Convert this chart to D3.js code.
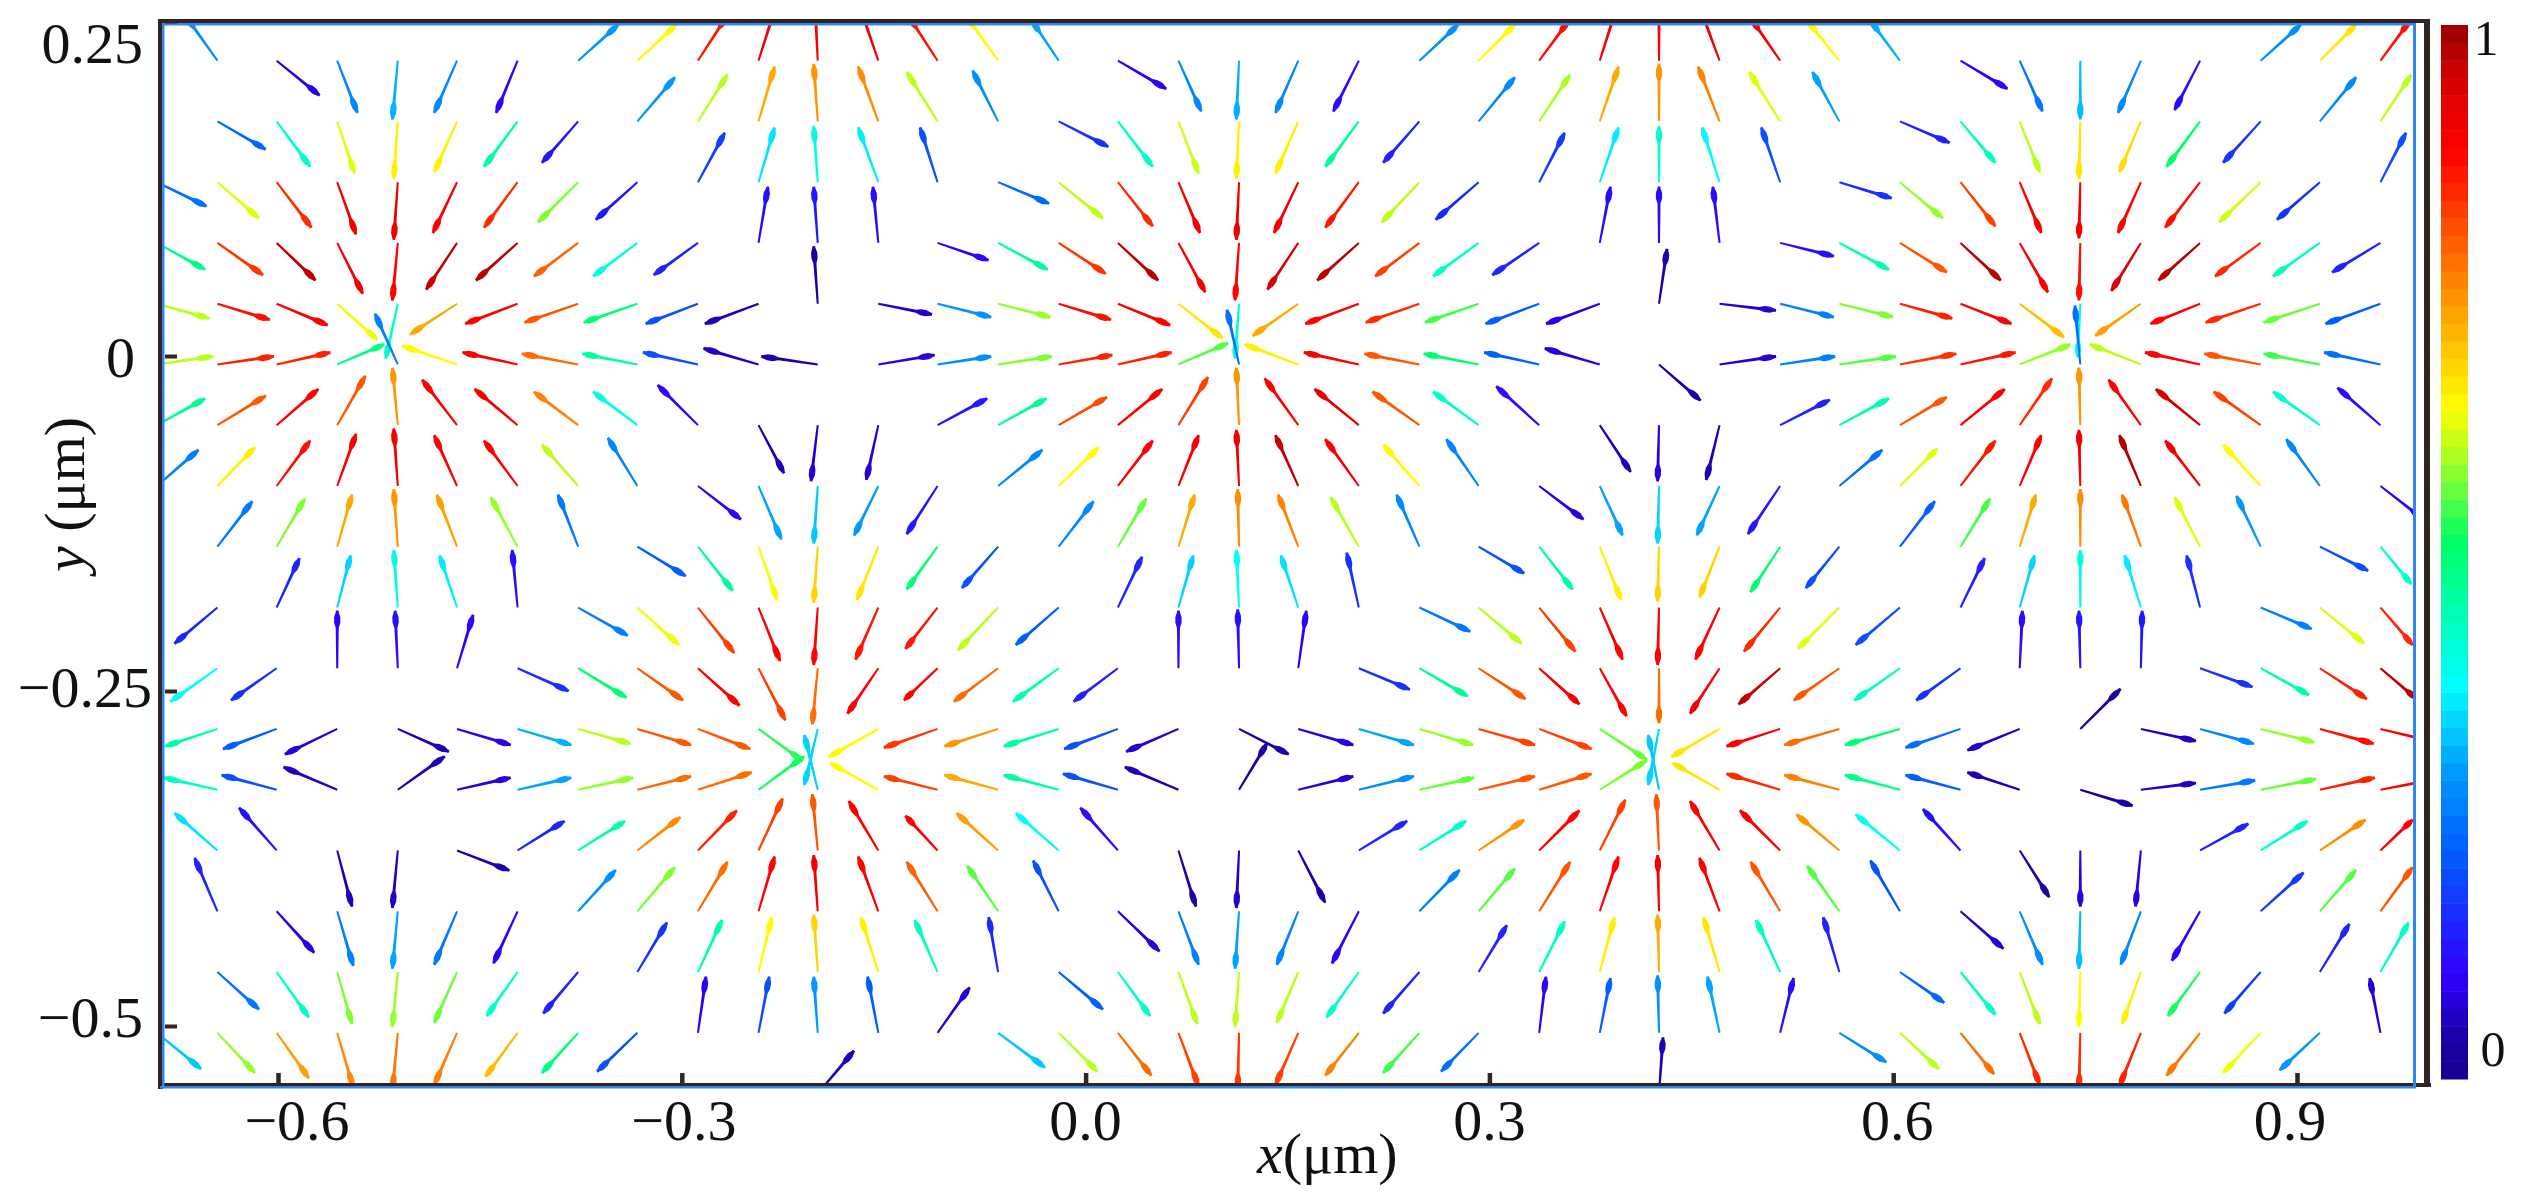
<!DOCTYPE html>
<html lang="en">
  <head>
    <meta charset="utf-8">
    <title>Vector field</title>
    <script type="text/javascript" src="https://cdnjs.cloudflare.com/ajax/libs/d3/7.8.5/d3.min.js"></script>
    <style>
    html, body { margin: 0; padding: 0; background: #fff; overflow: hidden; }
    text { font-family: "Liberation Serif", serif; font-size: 58px; fill: #111; }
    </style>
  </head>
  <body>
    <script type="text/javascript">
      // tail grid of the arrows, in um
      var colX = [-0.690,-0.645,-0.601,-0.556,-0.511,-0.467,-0.422,-0.377,-0.333,-0.288,
                  -0.243,-0.199,-0.154,-0.110,-0.065,-0.020,0.024,0.069,0.114,0.158,
                  0.203,0.248,0.292,0.337,0.382,0.426,0.471,0.516,0.560,0.605,
                  0.650,0.694,0.739,0.784,0.828,0.873,0.917,0.962];
      var rowY = [0.2204,0.1751,0.1297,0.0844,0.0390,-0.0063,-0.0516,-0.0970,-0.1423,
                  -0.1877,-0.2330,-0.2783,-0.3237,-0.3690,-0.4144,-0.4597,-0.5051,-0.5504];

      // one list per row: [column, dx (nm), dy (nm), normalised magnitude]
      var row00 = [[1,-24,34,.28],[2,32,-26,.08],[3,15,-39,.27],[4,-4,-44,.31],[5,-17,-39,.27],[6,-16,-39,.10],[7,30,27,.29],[8,29,27,.64],[9,22,34,.86],[10,12,38,.9],[11,-2,42,.9],[12,-13,38,.9],[13,-22,34,.86],[14,-24,34,.64],[15,-20,30,.3],[16,36,-21,.09],[17,17,-38,.27],[18,-2,-44,.31],[19,-17,-39,.27],[20,-19,-38,.11],[21,29,27,.28],[22,27,27,.64],[23,22,30,.87],[24,12,38,.9],[25,0,42,.88],[26,-14,38,.9],[27,-22,32,.89],[28,-24,30,.64],[29,-22,30,.31],[30,35,-21,.1],[31,17,-38,.25],[32,0,-44,.32],[33,-17,-39,.27],[34,-19,-37,.12],[35,30,27,.28],[36,27,27,.66],[37,22,30,.87]];
      var row01 = [[1,36,-21,.23],[2,25,-34,.42],[3,13,-39,.62],[4,-3,-43,.65],[5,-17,-38,.65],[6,-25,-34,.45],[7,-27,-31,.13],[8,28,33,.29],[9,22,35,.6],[10,12,41,.72],[11,-3,43,.74],[12,-15,41,.75],[13,-23,37,.6],[14,-19,38,.28],[15,37,-19,.16],[16,26,-34,.42],[17,15,-39,.61],[18,-2,-43,.65],[19,-17,-39,.65],[20,-25,-34,.47],[21,-27,-31,.14],[22,27,33,.27],[23,23,35,.59],[24,14,41,.72],[25,0,43,.74],[26,-16,41,.76],[27,-23,37,.62],[28,-20,37,.3],[29,37,-16,.14],[30,26,-31,.43],[31,15,-38,.6],[32,-1,-43,.66],[33,-16,-38,.67],[34,-25,-34,.5],[35,-28,-31,.17],[36,27,33,.27],[37,23,35,.6]];
      var row02 = [[0,37,-18,.24],[1,31,-27,.62],[2,26,-34,.84],[3,14,-39,.9],[4,-3,-43,.91],[5,-18,-38,.89],[6,-25,-34,.84],[7,-30,-30,.57],[8,-31,-28,.13],[9,20,37,.18],[10,12,41,.35],[11,-3,42,.4],[12,-15,41,.36],[13,-13,41,.2],[14,38,-16,.23],[15,33,-27,.6],[16,26,-33,.84],[17,16,-38,.9],[18,-2,-43,.91],[19,-18,-38,.9],[20,-25,-34,.86],[21,-28,-30,.6],[22,-32,-28,.15],[23,19,37,.17],[24,14,41,.36],[25,0,42,.42],[26,-13,41,.37],[27,-14,41,.2],[28,39,-12,.16],[29,32,-27,.58],[30,26,-33,.82],[31,16,-38,.89],[32,-1,-42,.9],[33,-17,-38,.88],[34,-26,-34,.87],[35,-31,-30,.61],[36,-32,-28,.16],[37,19,37,.2]];
      var row03 = [[0,36,-20,.48],[1,34,-24,.83],[2,29,-28,.97],[3,19,-38,.89],[4,-4,-43,.88],[5,-23,-35,.96],[6,-31,-28,.97],[7,-33,-25,.79],[8,-33,-25,.4],[9,-33,-24,.14],[10,7,42,.12],[11,-3,42,.13],[12,-4,42,.12],[13,38,-13,.1],[14,37,-20,.46],[15,35,-23,.83],[16,30,-28,.97],[17,20,-37,.89],[18,-3,-43,.88],[19,-23,-35,.94],[20,-31,-28,.97],[21,-33,-25,.82],[22,-34,-25,.42],[23,-35,-24,.14],[24,8,42,.12],[25,0,42,.12],[26,-5,42,.12],[27,40,-10,.12],[28,37,-20,.44],[29,35,-22,.8],[30,30,-28,.97],[31,21,-37,.89],[32,-1,-43,.87],[33,-22,-36,.94],[34,-31,-28,.97],[35,-34,-25,.84],[36,-35,-25,.43],[37,-36,-22,.14]];
      var row04 = [[0,39,-11,.6],[1,39,-12,.87],[2,38,-16,.88],[3,30,-27,.63],[4,-9,-41,.42],[5,-35,-23,.72],[6,-39,-15,.88],[7,-40,-14,.8],[8,-40,-14,.5],[9,-39,-15,.2],[10,-40,-15,.05],[11,-3,43,.03],[12,40,-8,.06],[13,40,-10,.28],[14,39,-10,.58],[15,39,-12,.87],[16,39,-16,.88],[17,33,-26,.66],[18,-3,-41,.42],[19,-34,-24,.72],[20,-40,-15,.88],[21,-40,-14,.84],[22,-40,-14,.54],[23,-40,-15,.22],[24,-40,-15,.08],[25,6,41,.04],[26,42,-5,.07],[27,40,-10,.26],[28,40,-10,.57],[29,39,-11,.85],[30,38,-15,.88],[31,33,-25,.7],[32,-2,-40,.4],[33,-34,-24,.73],[34,-37,-15,.88],[35,-41,-14,.84],[36,-42,-14,.56],[37,-41,-15,.22]];
      var row05 = [[0,42,6,.6],[1,42,6,.85],[2,40,9,.85],[3,35,15,.48],[4,-17,38,.26],[5,-41,14,.64],[6,-41,9,.88],[7,-42,8,.78],[8,-41,8,.46],[9,-41,9,.2],[10,-41,12,.06],[11,-42,6,.04],[12,42,7,.08],[13,40,6,.28],[14,40,6,.57],[15,40,7,.85],[16,40,9,.85],[17,37,16,.55],[18,-9,41,.24],[19,-40,15,.65],[20,-41,9,.88],[21,-41,8,.8],[22,-41,8,.5],[23,-41,9,.22],[24,-41,12,.08],[25,31,-27,.03],[26,42,6,.07],[27,41,6,.26],[28,42,6,.55],[29,42,8,.83],[30,41,9,.86],[31,38,15,.58],[32,-4,44,.24],[33,-38,15,.6],[34,-41,9,.88],[35,-42,8,.8],[36,-42,8,.54],[37,-42,9,.24]];
      var row06 = [[0,36,20,.47],[1,36,22,.8],[2,31,27,.88],[3,21,37,.8],[4,-4,43,.74],[5,-26,34,.88],[6,-32,27,.89],[7,-33,25,.76],[8,-33,25,.4],[9,-30,30,.1],[10,19,-36,.05],[11,-5,-42,.07],[12,-9,-41,.07],[13,37,20,.13],[14,36,20,.47],[15,36,21,.81],[16,33,27,.89],[17,22,36,.82],[18,-2,43,.74],[19,-25,35,.88],[20,-33,27,.92],[21,-35,25,.8],[22,-34,25,.42],[23,-32,29,.11],[24,23,-35,.05],[25,-1,-42,.08],[26,-10,-41,.05],[27,37,19,.14],[28,37,20,.44],[29,35,21,.8],[30,33,27,.88],[31,24,35,.84],[32,-1,43,.74],[33,-24,34,.88],[34,-33,27,.95],[35,-35,25,.82],[36,-35,25,.42],[37,-32,28,.12]];
      var row07 = [[0,31,27,.26],[1,28,29,.65],[2,25,34,.87],[3,14,39,.89],[4,-3,43,.9],[5,-17,38,.88],[6,-25,34,.88],[7,-27,31,.6],[8,-22,36,.27],[9,32,-25,.1],[10,17,-40,.3],[11,-3,-43,.33],[12,-18,-37,.29],[13,-23,-36,.13],[14,33,27,.27],[15,30,29,.64],[16,26,34,.88],[17,15,38,.89],[18,-2,42,.9],[19,-17,38,.96],[20,-25,35,.88],[21,-27,31,.64],[22,-24,35,.27],[23,33,-25,.08],[24,17,-37,.3],[25,-1,-43,.34],[26,-17,-37,.3],[27,-24,-36,.13],[28,32,27,.24],[29,28,28,.62],[30,26,34,.86],[31,16,38,.88],[32,-1,42,.9],[33,-16,38,.98],[34,-26,34,.9],[35,-28,31,.64],[36,-25,35,.27],[37,32,-25,.1]];
      var row08 = [[1,26,34,.25],[2,21,36,.57],[3,11,39,.72],[4,-3,43,.74],[5,-15,39,.73],[6,-20,37,.58],[7,-15,39,.25],[8,36,-22,.22],[9,26,-33,.46],[10,14,-40,.64],[11,-3,-42,.68],[12,-16,-40,.66],[13,-23,-32,.5],[14,-27,-31,.2],[15,26,34,.27],[16,21,36,.56],[17,12,39,.72],[18,-1,43,.75],[19,-15,39,.76],[20,-21,37,.6],[21,-17,39,.27],[22,34,-20,.2],[23,25,-32,.46],[24,16,-40,.65],[25,-1,-41,.68],[26,-15,-38,.68],[27,-22,-34,.5],[28,-25,-31,.2],[29,26,34,.22],[30,22,36,.54],[31,12,39,.72],[32,0,43,.75],[33,-14,39,.77],[34,-19,37,.62],[35,-18,38,.29],[36,36,-18,.2],[37,23,-28,.42]];
      var row09 = [[1,-32,-27,.15],[2,17,37,.15],[3,10,39,.34],[4,-3,43,.4],[5,-13,39,.36],[6,-4,43,.12],[7,37,-21,.26],[8,31,-28,.63],[9,27,-34,.82],[10,16,-40,.88],[11,-3,-43,.88],[12,-17,-39,.86],[13,-24,-31,.86],[14,-30,-32,.6],[15,-32,-28,.22],[16,18,38,.15],[17,11,39,.34],[18,-2,43,.38],[19,-13,39,.35],[20,-9,41,.16],[21,38,-18,.25],[22,32,-27,.6],[23,27,-33,.82],[24,17,-39,.88],[25,-1,-43,.88],[26,-18,-39,.88],[27,-27,-33,.84],[28,-31,-31,.62],[29,-33,-28,.2],[30,18,37,.14],[31,11,39,.34],[32,0,43,.4],[33,-12,39,.36],[34,-10,39,.16],[35,38,-16,.26],[36,33,-27,.62],[37,24,-28,.84]];
      var row10 = [[1,-35,-25,.38],[2,-34,-24,.16],[3,0,43,.1],[4,-2,43,.12],[5,12,40,.1],[6,38,-17,.16],[7,36,-22,.5],[8,34,-24,.8],[9,31,-28,.88],[10,20,-39,.82],[11,-4,-42,.78],[12,-23,-34,.88],[13,-25,-24,.88],[14,-33,-25,.78],[15,-34,-25,.44],[16,-33,-25,.14],[17,0,43,.11],[18,-1,44,.12],[19,6,43,.1],[20,38,-16,.16],[21,36,-21,.47],[22,35,-23,.8],[23,30,-27,.9],[24,20,-36,.88],[25,0,-41,.78],[26,-22,-34,.9],[27,-31,-27,.96],[28,-34,-24,.8],[29,-34,-24,.43],[30,-33,-24,.16],[31,2,43,.11],[32,-1,43,.13],[33,1,43,.13],[34,39,-14,.16],[35,36,-20,.45],[36,35,-23,.85],[37,27,-23,.97]];
      var row11 = [[1,-39,-13,.45],[2,-40,-15,.22],[3,-39,-19,.07],[4,38,-17,.05],[5,40,-12,.09],[6,40,-12,.31],[7,39,-11,.6],[8,40,-12,.8],[9,39,-15,.8],[10,33,-24,.53],[11,-10,-42,.34],[12,-37,-21,.64],[13,-40,-14,.83],[14,-40,-13,.74],[15,-41,-13,.46],[16,-40,-15,.2],[17,-39,-17,.07],[18,37,-19,.04],[19,41,-12,.08],[20,41,-12,.3],[21,40,-12,.58],[22,42,-12,.82],[23,39,-15,.82],[24,35,-23,.56],[25,-8,-42,.34],[26,-36,-21,.66],[27,-40,-13,.88],[28,-41,-12,.78],[29,-41,-12,.5],[30,-41,-14,.24],[31,-39,-16,.06],[32,30,30,.03],[33,41,-9,.06],[34,40,-11,.27],[35,40,-10,.58],[36,40,-11,.87],[37,41,-10,.88]];
      var row12 = [[1,-40,9,.43],[2,-41,11,.2],[3,-40,17,.06],[4,35,25,.05],[5,40,9,.08],[6,40,9,.3],[7,41,9,.58],[8,40,10,.78],[9,40,13,.78],[10,34,25,.52],[11,-10,41,.34],[12,-36,20,.64],[13,-40,10,.82],[14,-40,11,.72],[15,-41,11,.46],[16,-41,12,.2],[17,-40,17,.05],[18,21,35,.03],[19,41,10,.07],[20,41,10,.28],[21,41,9,.56],[22,42,10,.8],[23,39,12,.8],[24,35,22,.57],[25,-8,41,.33],[26,-35,20,.66],[27,-40,12,.84],[28,-41,11,.76],[29,-41,11,.48],[30,-41,11,.22],[31,-39,13,.05],[32,39,-12,.03],[33,41,5,.06],[34,41,7,.25],[35,41,8,.56],[36,41,9,.85],[37,41,8,.88]];
      var row13 = [[1,-32,28,.35],[2,-28,32,.12],[3,11,-42,.05],[4,-4,-43,.06],[5,39,-15,.04],[6,35,22,.15],[7,35,22,.44],[8,32,25,.75],[9,29,30,.85],[10,18,39,.82],[11,-4,42,.8],[12,-22,37,.88],[13,-24,26,.88],[14,-31,28,.73],[15,-32,28,.38],[16,-28,32,.11],[17,13,-42,.04],[18,-2,-43,.06],[19,20,-39,.04],[20,36,22,.15],[21,35,22,.42],[22,34,23,.74],[23,30,30,.88],[24,19,38,.82],[25,-2,42,.8],[26,-22,37,.88],[27,-30,30,.88],[28,-32,27,.74],[29,-33,27,.38],[30,-28,31,.12],[31,22,-35,.04],[32,0,-42,.08],[33,-4,-42,.08],[34,36,20,.14],[35,35,22,.42],[36,34,23,.75],[37,24,23,.88]];
      var row14 = [[1,-17,40,.14],[2,28,-31,.08],[3,12,-41,.26],[4,-4,-43,.3],[5,-17,-40,.25],[6,-18,-39,.1],[7,28,31,.28],[8,28,33,.57],[9,22,37,.78],[10,12,41,.88],[11,-3,42,.9],[12,-15,41,.88],[13,-23,37,.79],[14,-23,34,.55],[15,-19,38,.2],[16,31,-30,.08],[17,15,-40,.26],[18,-3,-43,.3],[19,-16,-40,.27],[20,-20,-39,.1],[21,30,31,.26],[22,27,32,.55],[23,23,37,.8],[24,14,41,.88],[25,-1,42,.9],[26,-15,40,.89],[27,-22,37,.8],[28,-24,34,.55],[29,-22,38,.2],[30,32,-28,.07],[31,17,-40,.28],[32,-1,-43,.32],[33,-15,-40,.27],[34,-21,-37,.1],[35,32,29,.17],[36,27,31,.55],[37,24,33,.8]];
      var row15 = [[1,31,-28,.25],[2,24,-34,.42],[3,11,-39,.57],[4,-4,-41,.58],[5,-17,-38,.56],[6,-23,-33,.42],[7,-26,-31,.14],[8,22,37,.16],[9,18,39,.44],[10,10,41,.64],[11,-3,43,.68],[12,-13,41,.65],[13,-17,39,.43],[14,-7,41,.15],[15,33,-28,.22],[16,24,-33,.42],[17,14,-39,.6],[18,-3,-41,.6],[19,-16,-38,.6],[20,-24,-34,.42],[21,-27,-31,.14],[22,21,35,.14],[23,19,38,.43],[24,11,41,.65],[25,-1,43,.72],[26,-12,41,.66],[27,-18,39,.43],[28,-12,41,.14],[29,33,-23,.23],[30,26,-32,.43],[31,15,-39,.6],[32,-1,-41,.64],[33,-14,-39,.65],[34,-24,-33,.52],[35,-27,-31,.18],[36,22,36,.14],[37,21,37,.42]];
      var row16 = [[0,33,-27,.33],[1,28,-30,.58],[2,24,-34,.73],[3,12,-41,.75],[4,-4,-43,.77],[5,-17,-39,.76],[6,-24,-33,.7],[7,-27,-30,.49],[8,-30,-29,.2],[9,6,42,.09],[10,8,42,.2],[11,-3,42,.29],[12,-8,42,.22],[13,24,34,.07],[14,35,-26,.33],[15,29,-29,.6],[16,25,-32,.78],[17,15,-40,.82],[18,-1,-43,.83],[19,-17,-39,.82],[20,-25,-32,.76],[21,-27,-30,.54],[22,-28,-29,.24],[23,5,42,.1],[24,8,41,.22],[25,-1,43,.28],[26,-9,42,.3],[27,10,41,.12],[28,35,-22,.28],[29,29,-27,.6],[30,25,-31,.78],[31,15,-39,.84],[32,-1,-43,.84],[33,-16,-40,.85],[34,-25,-32,.77],[35,-28,-30,.63],[36,-30,-28,.29],[37,-8,41,.07]];
      var row17 = [[11,27,32,.05],[25,3,42,.05]];

      var allRows = [row00,row01,row02,row03,row04,row05,row06,row07,row08,row09,row10,row11,row12,row13,row14,row15,row16,row17];

      // ticks and labels
      var xTicks = [-0.6,-0.3,0,0.3,0.6,0.9];
      var xLabels = ["\u22120.6","\u22120.3","0.0","0.3","0.6","0.9"];
      var xLabelShift = [19,2,0,0,4,-7];
      var yTicks = [0.25,0,-0.25,-0.5];
      var yLabels = ["0.25","0","\u22120.25","\u22120.5"];
      var yLabelEnd = [143,135,152,143];
      var yLabelShift = [23,2,-3,-8];

      // colour ramp of the bar
      var rampStops = [0,.04,.1,.22,.29,.374,.51,.59,.637,.77,.88,.94,1];
      var rampColors = ["#14008c","#1c00a8","#3000ff","#0060ff","#0098ff","#00ffff","#00ff66","#aaff22","#ffff00","#ff7700","#ff0000","#dd0000","#990000"];
      var barBands = 60;

      var w = 2521, h = 1199;
      var plotLeft = 160, plotRight = 2414, plotTop = 21, plotBottom = 1086;

      var x = d3.scaleLinear().domain([-0.6,0.9]).range([278,2297]);
      var y = d3.scaleLinear().domain([0,-0.5]).range([356,1026]);
      var color = d3.scaleLinear().domain(rampStops).range(rampColors).interpolate(d3.interpolateRgb);

      var svg = d3.select("body").append("svg")
                  .attr("width", w)
                  .attr("height", h)
                  .style("display", "block");

      var defs = svg.append("defs");
      defs.append("clipPath").attr("id", "plotClip")
          .append("rect")
          .attr("x", plotLeft + 2).attr("y", plotTop + 3)
          .attr("width", plotRight - plotLeft - 2).attr("height", plotBottom - plotTop - 3);
      defs.append("filter").attr("id", "soft")
          .attr("x", "-2%").attr("y", "-2%").attr("width", "104%").attr("height", "104%")
          .append("feGaussianBlur").attr("stdDeviation", 0.7);

      // flatten rows so each arrow knows its tail
      var arrows = [];
      allRows.forEach(function(row, r){
        row.forEach(function(d){
          arrows.push({x0: colX[d[0]], y0: rowY[r], dx: d[1]/1000, dy: d[2]/1000, m: d[3]});
        });
      });

      // nearly even shaft with a short bump for the head
      function arrowPath(d){
        var x0 = x(d.x0), y0 = y(d.y0);
        var x1 = x(d.x0 + d.dx), y1 = y(d.y0 + d.dy);
        var vx = x1 - x0, vy = y1 - y0;
        var len = Math.sqrt(vx*vx + vy*vy);
        var nx = -vy/len, ny = vx/len;
        var prof = [[0,1],[0.7,1.5],[0.79,3.1],[0.89,3.1],[0.96,1.7],[1,1.3]];
        var a = prof.map(function(p){ return [x0 + vx*p[0] + nx*p[1], y0 + vy*p[0] + ny*p[1]]; });
        var b = prof.slice().reverse().map(function(p){ return [x0 + vx*p[0] - nx*p[1], y0 + vy*p[0] - ny*p[1]]; });
        return d3.line()(a.concat(b)) + "Z";
      }

      svg.append("g")
         .attr("clip-path", "url(#plotClip)")
         .append("g")
         .attr("filter", "url(#soft)")
         .selectAll("path")
         .data(arrows)
         .enter()
         .append("path")
         .attr("d", arrowPath)
         .attr("fill", function(d){ return color(d.m); });

      // frame: dark line with a blue line next to it
      var dark = "#33241f", blue = "#2f86f0";
      var frame = svg.append("g");
      frame.append("rect").attr("x", plotLeft - 2).attr("y", plotTop - 2).attr("width", 2430 - plotLeft + 2).attr("height", 4).attr("fill", dark);
      frame.append("rect").attr("x", plotLeft - 2).attr("y", plotTop - 2).attr("width", 5).attr("height", plotBottom - plotTop + 5).attr("fill", dark);
      frame.append("rect").attr("x", plotLeft - 2).attr("y", plotBottom - 3).attr("width", 2431 - plotLeft + 2).attr("height", 4).attr("fill", dark);
      frame.append("rect").attr("x", 2424).attr("y", plotTop - 2).attr("width", 6).attr("height", plotBottom - plotTop + 3).attr("fill", dark);
      frame.append("rect").attr("x", plotLeft + 2).attr("y", plotTop + 2).attr("width", plotRight - plotLeft).attr("height", 2.5).attr("fill", blue);
      frame.append("rect").attr("x", plotLeft + 2).attr("y", plotTop + 2).attr("width", 2.5).attr("height", plotBottom - plotTop).attr("fill", blue);
      frame.append("rect").attr("x", plotRight - 1).attr("y", plotTop + 2).attr("width", 3).attr("height", plotBottom - plotTop).attr("fill", blue);
      frame.append("rect").attr("x", plotLeft).attr("y", plotBottom).attr("width", plotRight - plotLeft + 2).attr("height", 2.5).attr("fill", blue);

      // ticks
      var xAxis = d3.axisBottom(x).tickValues(xTicks).tickSize(-11).tickSizeOuter(0).tickFormat("");
      var gx = svg.append("g").attr("transform", "translate(0," + (plotBottom - 2) + ")").call(xAxis);
      gx.select(".domain").remove();
      gx.selectAll("line").attr("stroke", dark).attr("stroke-width", 4.5);

      var yAxis = d3.axisLeft(y).tickValues(yTicks).tickSize(-12).tickSizeOuter(0).tickFormat("");
      var gy = svg.append("g").attr("transform", "translate(" + (plotLeft + 5) + ",0)").call(yAxis);
      gy.select(".domain").remove();
      gy.selectAll("line").attr("stroke", dark).attr("stroke-width", 4);

      // tick labels
      svg.selectAll("text.xlab")
         .data(xTicks)
         .enter()
         .append("text")
         .attr("class", "xlab")
         .attr("x", function(d, i){ return x(d) + xLabelShift[i]; })
         .attr("y", 1140)
         .attr("text-anchor", "middle")
         .text(function(d, i){ return xLabels[i]; });

      svg.selectAll("text.ylab")
         .data(yTicks)
         .enter()
         .append("text")
         .attr("class", "ylab")
         .attr("x", function(d, i){ return yLabelEnd[i]; })
         .attr("y", function(d, i){ return y(d) + 19 + yLabelShift[i]; })
         .attr("text-anchor", "end")
         .text(function(d, i){ return yLabels[i]; });

      // axis titles
      var xt = svg.append("text").attr("x", 1257).attr("y", 1173);
      xt.append("tspan").attr("font-style", "italic").text("x");
      xt.append("tspan").text("(\u03bcm)");

      var yt = svg.append("text").attr("transform", "translate(84,572) rotate(-90)");
      yt.append("tspan").attr("font-style", "italic").text("y");
      yt.append("tspan").text(" (\u03bcm)");

      // colour bar
      var barY = d3.scaleLinear().domain([0,1]).range([1079,25]);
      var bands = d3.range(barBands);
      svg.append("g")
         .selectAll("rect")
         .data(bands)
         .enter()
         .append("rect")
         .attr("x", 2441)
         .attr("width", 27)
         .attr("y", function(d){ return barY((d + 1)/barBands); })
         .attr("height", function(){ return (barY(0) - barY(1))/barBands + 0.5; })
         .attr("fill", function(d){ return color((d + 0.5)/barBands); });

      svg.append("text").attr("x", 2486).attr("y", 55).attr("text-anchor", "middle").style("font-size", "50px").text("1");
      svg.append("text").attr("x", 2493).attr("y", 1066).attr("text-anchor", "middle").style("font-size", "50px").text("0");
    </script>
  </body>
</html>
